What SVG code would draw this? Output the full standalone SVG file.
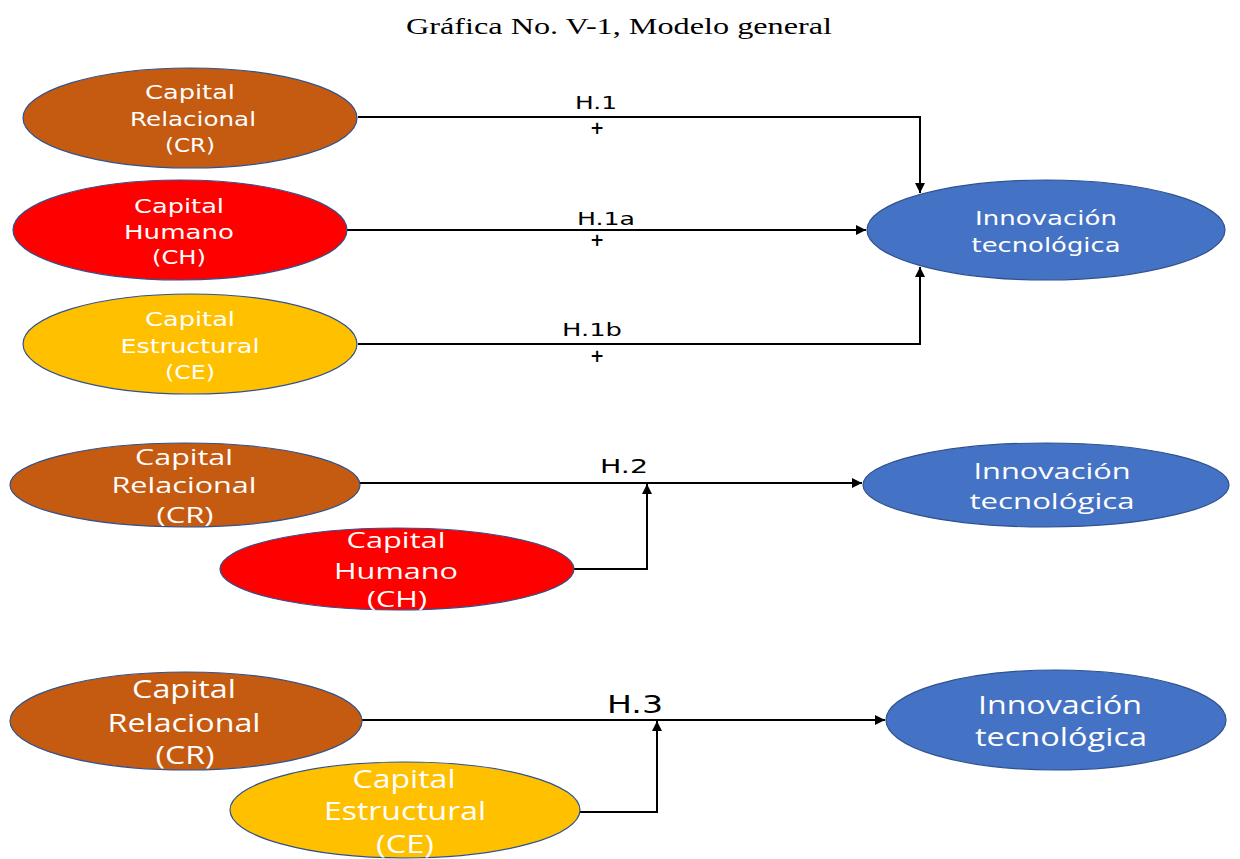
<svg xmlns="http://www.w3.org/2000/svg" width="1240" height="859" viewBox="0 0 1240 859">
<defs>
<marker id="arr" viewBox="0 0 10 10" refX="10" refY="5" markerWidth="5" markerHeight="5" orient="auto" markerUnits="strokeWidth">
<path d="M0,0 L10,5 L0,10 z" fill="#000"/>
</marker>
<style>
.node{stroke:#2F528F;stroke-width:1.2}
.cr{fill:#C55A11}.ch{fill:#FF0000}.ce{fill:#FFC000}.it{fill:#4472C4}
.t1{font-family:"DejaVu Sans",sans-serif;font-size:19px;fill:#fff;text-anchor:middle}
.t2{font-family:"Open Sans","Liberation Sans",sans-serif;font-size:22px;fill:#fff;text-anchor:middle}
.t3{font-family:"Open Sans","Liberation Sans",sans-serif;font-size:25px;fill:#fff;text-anchor:middle}
.lab{font-family:"DejaVu Sans",sans-serif;fill:#000;text-anchor:middle}
.plus{font-weight:bold}
.con{fill:none;stroke:#000;stroke-width:2}
.title{font-family:"Liberation Serif",serif;font-size:24px;fill:#000;text-anchor:middle}
</style>
</defs>
<rect width="1240" height="859" fill="#fff"/>
<text class="title" x="619" y="34" textLength="426" lengthAdjust="spacingAndGlyphs">Gráfica No. V-1, Modelo general</text>

<g id="connectors">
<path class="con" d="M358,117 H920 V193" marker-end="url(#arr)"/>
<path class="con" d="M347,230 H866" marker-end="url(#arr)"/>
<path class="con" d="M358,344 H920 V267" marker-end="url(#arr)"/>
<path class="con" d="M360,483 H862" marker-end="url(#arr)"/>
<path class="con" d="M573,569 H647 V484" marker-end="url(#arr)"/>
<path class="con" d="M362,720 H885" marker-end="url(#arr)"/>
<path class="con" d="M580,812 H657 V721" marker-end="url(#arr)"/>
<text class="lab" x="596" y="109" font-size="17" textLength="42" lengthAdjust="spacingAndGlyphs">H.1</text>
<text class="lab plus" x="597" y="134" font-size="17">+</text>
<text class="lab" x="606" y="225" font-size="17" textLength="58" lengthAdjust="spacingAndGlyphs">H.1a</text>
<text class="lab plus" x="597" y="246" font-size="17">+</text>
<text class="lab" x="592" y="336" font-size="17" textLength="60" lengthAdjust="spacingAndGlyphs">H.1b</text>
<text class="lab plus" x="597" y="362" font-size="17">+</text>
<text class="lab" x="624" y="473" font-size="19" textLength="48" lengthAdjust="spacingAndGlyphs">H.2</text>
<text class="lab" x="635" y="713" font-size="24" textLength="56" lengthAdjust="spacingAndGlyphs">H.3</text>
</g>

<g id="cr1">
<ellipse class="node cr" cx="190" cy="118" rx="167" ry="50"/>
<text class="t1" x="190" y="99" textLength="90" lengthAdjust="spacingAndGlyphs">Capital</text>
<text class="t1" x="193" y="126" textLength="126" lengthAdjust="spacingAndGlyphs">Relacional</text>
<text class="t1" x="190" y="152" textLength="50" lengthAdjust="spacingAndGlyphs">(CR)</text>
</g>
<g id="ch1">
<ellipse class="node ch" cx="180" cy="230" rx="167" ry="50"/>
<text class="t1" x="179" y="213" textLength="90" lengthAdjust="spacingAndGlyphs">Capital</text>
<text class="t1" x="179" y="239" textLength="110" lengthAdjust="spacingAndGlyphs">Humano</text>
<text class="t1" x="179" y="264" textLength="54" lengthAdjust="spacingAndGlyphs">(CH)</text>
</g>
<g id="ce1">
<ellipse class="node ce" cx="190" cy="344" rx="167" ry="50"/>
<text class="t1" x="190" y="326" textLength="90" lengthAdjust="spacingAndGlyphs">Capital</text>
<text class="t1" x="190" y="353" textLength="139" lengthAdjust="spacingAndGlyphs">Estructural</text>
<text class="t1" x="190" y="379" textLength="50" lengthAdjust="spacingAndGlyphs">(CE)</text>
</g>
<g id="it1">
<ellipse class="node it" cx="1046" cy="230" rx="179" ry="50"/>
<text class="t1" x="1046" y="225" textLength="142" lengthAdjust="spacingAndGlyphs">Innovación</text>
<text class="t1" x="1046" y="252" textLength="149" lengthAdjust="spacingAndGlyphs">tecnológica</text>
</g>

<g id="cr2">
<ellipse class="node cr" cx="185" cy="485" rx="175" ry="42"/>
<text class="t2" x="184" y="465" textLength="98" lengthAdjust="spacingAndGlyphs">Capital</text>
<text class="t2" x="184" y="493" textLength="145" lengthAdjust="spacingAndGlyphs">Relacional</text>
<text class="t2" x="185" y="523" textLength="57" lengthAdjust="spacingAndGlyphs">(CR)</text>
</g>
<g id="ch2">
<ellipse class="node ch" cx="397" cy="569" rx="177" ry="41"/>
<text class="t2" x="396" y="548" textLength="99" lengthAdjust="spacingAndGlyphs">Capital</text>
<text class="t2" x="396" y="579" textLength="124" lengthAdjust="spacingAndGlyphs">Humano</text>
<text class="t2" x="397" y="607" textLength="60" lengthAdjust="spacingAndGlyphs">(CH)</text>
</g>
<g id="it2">
<ellipse class="node it" cx="1046" cy="485" rx="183" ry="42"/>
<text class="t2" x="1052" y="479" textLength="157" lengthAdjust="spacingAndGlyphs">Innovación</text>
<text class="t2" x="1052" y="509" textLength="165" lengthAdjust="spacingAndGlyphs">tecnológica</text>
</g>

<g id="cr3">
<ellipse class="node cr" cx="186" cy="721" rx="176" ry="49"/>
<text class="t3" x="184" y="698" textLength="104" lengthAdjust="spacingAndGlyphs">Capital</text>
<text class="t3" x="184" y="732" textLength="153" lengthAdjust="spacingAndGlyphs">Relacional</text>
<text class="t3" x="185" y="764" textLength="59" lengthAdjust="spacingAndGlyphs">(CR)</text>
</g>
<g id="ce3">
<ellipse class="node ce" cx="405" cy="810" rx="175" ry="48"/>
<text class="t3" x="404" y="788" font-size="24" textLength="103" lengthAdjust="spacingAndGlyphs">Capital</text>
<text class="t3" x="405" y="820" font-size="24" textLength="162" lengthAdjust="spacingAndGlyphs">Estructural</text>
<text class="t3" x="405" y="853" font-size="24" textLength="58" lengthAdjust="spacingAndGlyphs">(CE)</text>
</g>
<g id="it3">
<ellipse class="node it" cx="1056" cy="720" rx="170" ry="50"/>
<text class="t3" x="1060" y="714" textLength="164" lengthAdjust="spacingAndGlyphs">Innovación</text>
<text class="t3" x="1061" y="746" textLength="172" lengthAdjust="spacingAndGlyphs">tecnológica</text>
</g>
</svg>
